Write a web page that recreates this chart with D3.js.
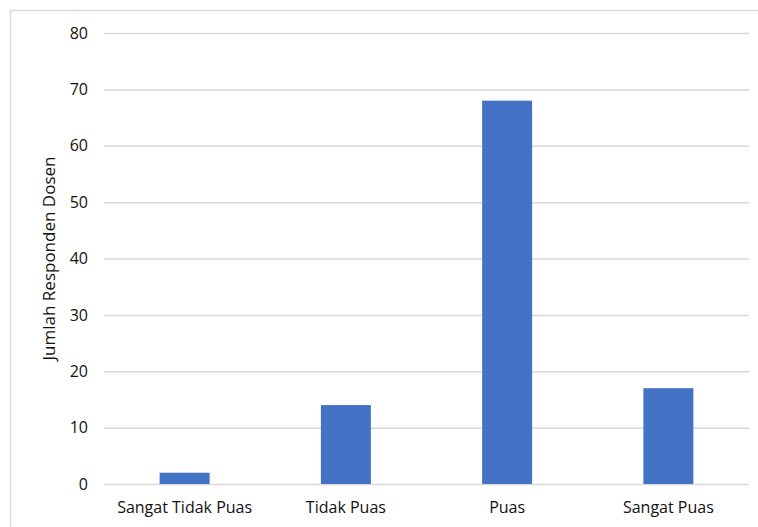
<!DOCTYPE html>
<html><head><meta charset="utf-8">
<script src="https://cdn.jsdelivr.net/npm/d3@7"></script>
<style>body{margin:0;background:#fff}svg{display:block}</style>
</head><body>
<svg id="c" width="758" height="527"></svg>
<script>
const categories = ["Sangat Tidak Puas", "Tidak Puas", "Puas", "Sangat Puas"];
const values = [2, 14, 68, 17];
const yTicks = [0, 10, 20, 30, 40, 50, 60, 70, 80];
const yTitle = "Jumlah Responden Dosen";

const svg = d3.select("#c");
const font = "'Open Sans', sans-serif";
const m = {left: 104, right: 749, top: 33, bottom: 484};

// chart border
svg.append("path").attr("d", "M10.5,527 L10.5,10.5 L758,10.5")
  .attr("fill", "none").attr("stroke", "#d9d9d9").attr("stroke-width", 1.5);

const x = d3.scaleBand().domain(categories).range([m.left, m.right])
  .paddingInner(0.69).paddingOuter(0.345);
const y = d3.scaleLinear().domain([0, 80]).range([m.bottom, m.top]);

const gy = svg.append("g").attr("transform", `translate(${m.left},0)`)
  .call(d3.axisLeft(y).tickValues(yTicks).tickSize(-(m.right - m.left)).tickPadding(16));
gy.select(".domain").remove();
gy.selectAll(".tick line").attr("stroke", "#d9d9d9").attr("stroke-width", 1.5);
gy.selectAll(".tick text").attr("font-family", font).attr("font-size", 16).attr("fill", "#111");

svg.append("g").selectAll("rect").data(values).join("rect")
  .attr("x", (d, i) => x(categories[i]))
  .attr("width", x.bandwidth())
  .attr("y", d => y(d))
  .attr("height", d => y(0) - y(d))
  .attr("fill", "#4472c4");

const gx = svg.append("g").attr("transform", `translate(0,${m.bottom})`)
  .call(d3.axisBottom(x).tickSize(0).tickPadding(18));
gx.select(".domain").remove();
gx.selectAll(".tick text").attr("font-family", font).attr("font-size", 16).attr("fill", "#111");

svg.append("text").attr("transform", `translate(55,${(m.top + m.bottom) / 2}) rotate(-90)`)
  .attr("text-anchor", "middle").attr("font-family", font).attr("font-size", 17)
  .attr("fill", "#111").text(yTitle);
</script>
</body></html>
